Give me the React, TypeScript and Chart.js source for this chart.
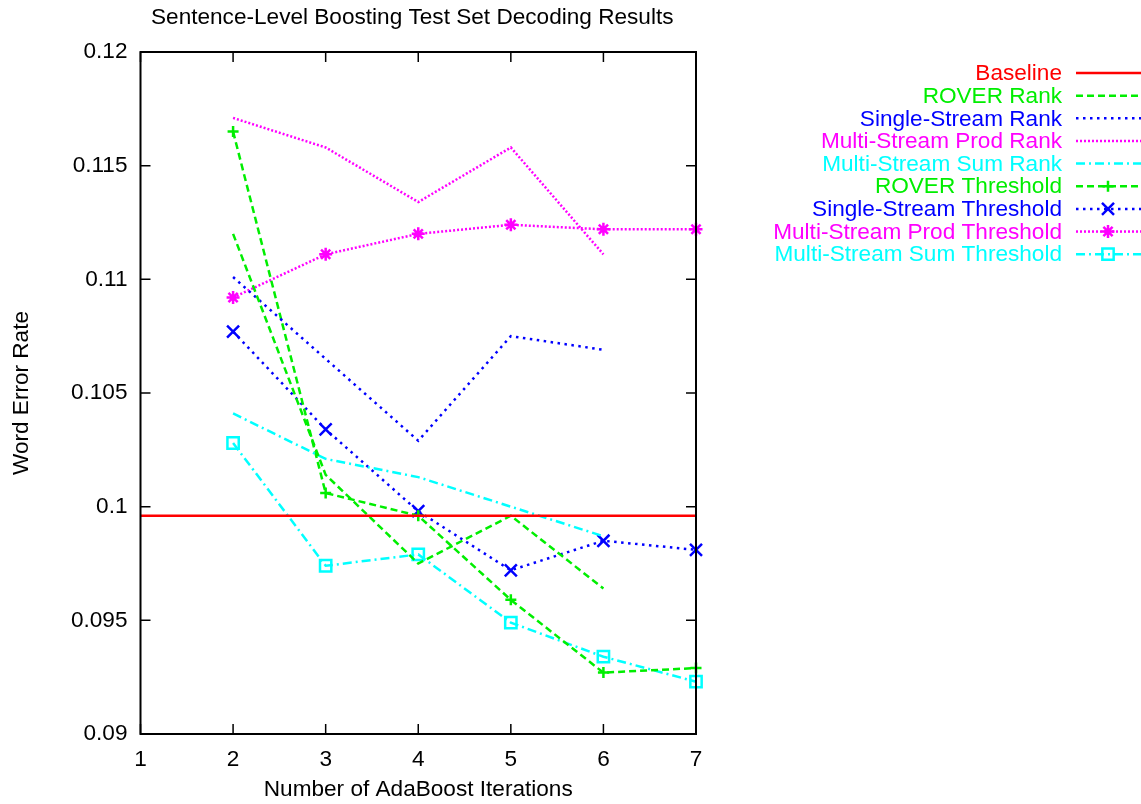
import React, { useEffect, useRef } from "react";
import { Chart, registerables } from "chart.js";
import { drawPoint } from "chart.js/helpers";

Chart.register(...registerables);

const baselineX = [1, 7];
const baselineY = [0.0996, 0.0996];

const rankX = [2, 3, 4, 5, 6];
const roverRank = [0.112, 0.1014, 0.0975, 0.0996, 0.0964];
const singleRank = [0.1101, 0.1065, 0.1029, 0.1075, 0.1069];
const prodRank = [0.1171, 0.1158, 0.1134, 0.1158, 0.1111];
const sumRank = [0.1041, 0.1021, 0.1013, 0.1, 0.0987];

const thrX = [2, 3, 4, 5, 6, 7];
const roverThr = [0.1165, 0.1006, 0.0996, 0.0959, 0.0927, 0.0929];
const singleThr = [0.1077, 0.1034, 0.0998, 0.0972, 0.0985, 0.0981];
const prodThr = [0.1092, 0.1111, 0.112, 0.1124, 0.1122, 0.1122];
const sumThr = [0.1028, 0.0974, 0.0979, 0.0949, 0.0934, 0.0923];

const labels = [
  "Baseline",
  "ROVER Rank",
  "Single-Stream Rank",
  "Multi-Stream Prod Rank",
  "Multi-Stream Sum Rank",
  "ROVER Threshold",
  "Single-Stream Threshold",
  "Multi-Stream Prod Threshold",
  "Multi-Stream Sum Threshold",
];

const RED = "#ff0000";
const GREEN = "#00ee00";
const BLUE = "#0000ff";
const MAGENTA = "#ff00ff";
const CYAN = "#00ffff";

const FONT = "'Liberation Sans', Arial, Helvetica, sans-serif";
const FS = 22.6;

const DASH_ROVER = [7, 4];
const DASH_SINGLE = [2.5, 4.5];
const DASH_PROD = [2, 2];
const DASH_SUM = [9, 4, 2, 4];

function pts(xs: number[], ys: number[]) {
  return xs.map((x, i) => ({ x, y: ys[i] }));
}

const framePlugin = {
  id: "gnuFrame",
  afterDraw(chart: any) {
    const { ctx, chartArea } = chart;
    const { left, right, top, bottom } = chartArea;
    const xs = chart.scales.x;
    const ys = chart.scales.y;
    ctx.save();
    ctx.strokeStyle = "#000";
    ctx.lineWidth = 2;
    ctx.setLineDash([]);
    ctx.strokeRect(left, top, right - left, bottom - top);
    ctx.lineWidth = 1.5;
    const tl = 10;
    ctx.beginPath();
    xs.ticks.forEach((t: any) => {
      const px = xs.getPixelForValue(t.value);
      ctx.moveTo(px, bottom);
      ctx.lineTo(px, bottom - tl);
      ctx.moveTo(px, top);
      ctx.lineTo(px, top + tl);
    });
    ys.ticks.forEach((t: any) => {
      const py = ys.getPixelForValue(t.value);
      ctx.moveTo(left, py);
      ctx.lineTo(left + tl, py);
      ctx.moveTo(right, py);
      ctx.lineTo(right - tl, py);
    });
    ctx.stroke();

    // title
    ctx.fillStyle = "#000";
    ctx.font = `${FS}px ${FONT}`;
    ctx.textAlign = "center";
    ctx.textBaseline = "middle";
    ctx.fillText("Sentence-Level Boosting Test Set Decoding Results", (left + right) / 2 - 6, 18);

    // legend
    const textRight = 1062;
    const lineL = 1076;
    const lineR = 1141;
    const y0 = 73;
    const dy = 22.65;
    chart.data.datasets.forEach((ds: any, i: number) => {
      const y = y0 + i * dy;
      ctx.fillStyle = ds.borderColor;
      ctx.textAlign = "right";
      ctx.textBaseline = "middle";
      ctx.font = `${FS}px ${FONT}`;
      ctx.fillText(ds.label, textRight, y + 1);
      ctx.strokeStyle = ds.borderColor;
      ctx.lineWidth = ds.borderWidth;
      ctx.setLineDash(ds.borderDash || []);
      ctx.beginPath();
      ctx.moveTo(lineL, y);
      ctx.lineTo(lineR, y);
      ctx.stroke();
      ctx.setLineDash([]);
      if (ds.pointRadius > 0) {
        ctx.lineWidth = ds.pointBorderWidth;
        ctx.strokeStyle = ds.borderColor;
        ctx.fillStyle = "rgba(0,0,0,0)";
        drawPoint(ctx, { pointStyle: ds.pointStyle, radius: ds.pointRadius, rotation: 0, borderWidth: ds.pointBorderWidth }, 1108, y);
      }
    });
    ctx.restore();
  },
};

function mk(label: string, data: any[], color: string, dash: number[], width: number, pointStyle: any, radius: number) {
  return {
    label,
    data,
    borderColor: color,
    backgroundColor: "rgba(0,0,0,0)",
    pointBorderColor: color,
    pointBackgroundColor: "rgba(0,0,0,0)",
    borderWidth: width,
    borderDash: dash,
    pointStyle: pointStyle,
    pointRadius: radius,
    pointBorderWidth: 2.5,
    pointHoverRadius: radius,
    tension: 0,
    fill: false,
    clip: false as any,
  };
}

export default function App() {
  const ref = useRef<HTMLCanvasElement | null>(null);
  useEffect(() => {
    if (!ref.current) return;
    const chart = new Chart(ref.current, {
      type: "line",
      data: {
        datasets: [
          mk(labels[0], pts(baselineX, baselineY), RED, [], 2.5, false, 0),
          mk(labels[1], pts(rankX, roverRank), GREEN, DASH_ROVER, 2.5, false, 0),
          mk(labels[2], pts(rankX, singleRank), BLUE, DASH_SINGLE, 2.5, false, 0),
          mk(labels[3], pts(rankX, prodRank), MAGENTA, DASH_PROD, 2.5, false, 0),
          mk(labels[4], pts(rankX, sumRank), CYAN, DASH_SUM, 2.5, false, 0),
          mk(labels[5], pts(thrX, roverThr), GREEN, DASH_ROVER, 2.5, "cross", 5.5),
          mk(labels[6], pts(thrX, singleThr), BLUE, DASH_SINGLE, 2.5, "crossRot", 8.5),
          mk(labels[7], pts(thrX, prodThr), MAGENTA, DASH_PROD, 2.5, "star", 6.5),
          mk(labels[8], pts(thrX, sumThr), CYAN, DASH_SUM, 2.5, "rect", 8),
        ],
      },
      options: {
        animation: false,
        responsive: true,
        maintainAspectRatio: false,
        events: [],
        layout: { padding: { left: 0, right: 445, top: 52, bottom: 0 } },
        plugins: { legend: { display: false }, tooltip: { enabled: false }, title: { display: false } },
        scales: {
          x: {
            type: "linear",
            min: 1,
            max: 7,
            grid: { display: false, drawTicks: false },
            border: { display: false },
            ticks: { stepSize: 1, color: "#000", font: { family: FONT, size: FS }, padding: 12 },
            title: { display: true, text: "Number of AdaBoost Iterations", color: "#000", font: { family: FONT, size: FS }, padding: { top: 0, bottom: 1 } },
            afterFit(scale: any) {
              scale.height = 70;
            },
          },
          y: {
            type: "linear",
            min: 0.09,
            max: 0.12,
            grid: { display: false, drawTicks: false },
            border: { display: false },
            ticks: {
              stepSize: 0.005,
              color: "#000",
              font: { family: FONT, size: FS },
              padding: 13,
              callback: (v: any) => String(Number(Number(v).toFixed(3))),
            },
            title: { display: true, text: "Word Error Rate", color: "#000", font: { family: FONT, size: FS }, padding: { top: 8, bottom: 0 } },
            afterFit(scale: any) {
              scale.width = 140.5;
            },
          },
        },
      },
      plugins: [framePlugin],
    });
    return () => chart.destroy();
  }, []);
  return (
    <div style={{ position: "absolute", left: 0, top: 0, width: 1141, height: 804, background: "#fff" }}>
      <canvas ref={ref} />
    </div>
  );
}
